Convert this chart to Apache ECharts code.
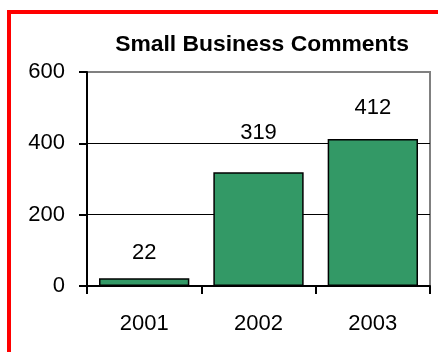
<!DOCTYPE html>
<html>
<head>
<meta charset="utf-8">
<style>
  html, body { margin: 0; padding: 0; background: #fff; }
  #chart { width: 438px; height: 352px; }
</style>
<script src="https://cdn.jsdelivr.net/npm/echarts@6/dist/echarts.min.js"></script>
</head>
<body>
<div id="chart"></div>
<script>
// Comment counts per year
const years = ['2001', '2002', '2003'];
const comments = [22, 319, 412];
const yTicks = [0, 200, 400, 600];

// How far each value label sits above its bar
const labelDistance = [14, 28, 20];

const FONT = '"Liberation Sans", Arial, sans-serif';

const chart = echarts.init(document.getElementById('chart'), null, { renderer: 'canvas' });

chart.setOption({
  animation: false,
  backgroundColor: '#fff',
  textStyle: { fontFamily: FONT },
  graphic: [
    {
      type: 'rect',
      shape: { x: 9, y: 12, width: 600, height: 600 },
      style: { fill: 'none', stroke: '#ff0000', lineWidth: 4 },
      silent: true
    },
    {
      type: 'text',
      x: 262, y: 45,
      scaleX: 1.04,
      style: {
        text: 'Small Business Comments',
        fontFamily: FONT, fontSize: 22, fontWeight: 'bold',
        fill: '#000', align: 'center', verticalAlign: 'middle'
      },
      silent: true
    }
  ],
  grid: {
    left: 87, right: 8, top: 72, bottom: 66,
    show: true, borderColor: '#808080', borderWidth: 2, containLabel: false
  },
  xAxis: {
    type: 'category',
    data: years,
    boundaryGap: true,
    axisLine: { lineStyle: { color: '#000', width: 2 } },
    axisTick: { show: true, inside: false, length: 8, alignWithLabel: false, lineStyle: { color: '#000', width: 2 } },
    axisLabel: { color: '#000', fontFamily: FONT, fontSize: 22, margin: 27 },
    splitLine: { show: false }
  },
  yAxis: {
    type: 'value',
    min: yTicks[0],
    max: yTicks[yTicks.length - 1],
    interval: yTicks[1] - yTicks[0],
    axisLine: { show: true, lineStyle: { color: '#000', width: 2 } },
    axisTick: { show: true, inside: false, length: 8, lineStyle: { color: '#000', width: 2 } },
    axisLabel: { color: '#000', fontFamily: FONT, fontSize: 22, margin: 22 },
    splitLine: { show: true, lineStyle: { color: ['#000', '#000', '#000', '#808080'], width: 1 } }
  },
  series: [{
    type: 'bar',
    data: comments.map((v, i) => ({ value: v, label: { distance: labelDistance[i] } })),
    barWidth: '79%',
    itemStyle: { color: '#339966', borderColor: '#000', borderWidth: 1.5 },
    label: {
      show: true, position: 'top',
      color: '#000', fontFamily: FONT, fontSize: 22
    }
  }]
});
</script>
</body>
</html>
